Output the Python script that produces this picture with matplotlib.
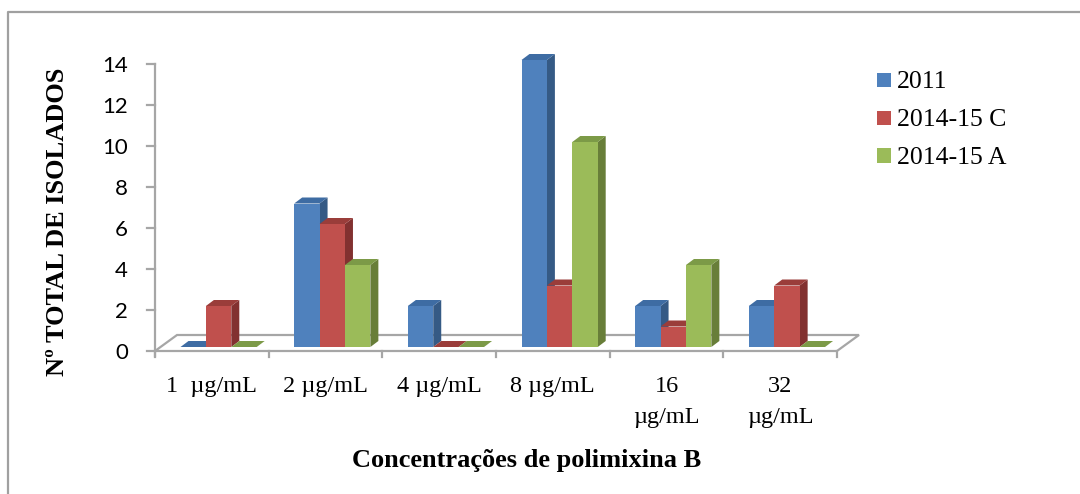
import matplotlib
matplotlib.use('Agg')
import matplotlib.pyplot as plt
from matplotlib.patches import Polygon, Rectangle
from matplotlib.lines import Line2D

# ---------------- data ----------------
categories = ['1  µg/mL', '2 µg/mL', '4 µg/mL', '8 µg/mL', '16\nµg/mL', '32\nµg/mL']
series_names = ['2011', '2014-15 C', '2014-15 A']
v2011 = [0, 7, 2, 14, 2, 2]
v2014C = [2, 6, 0, 3, 1, 3]
v2014A = [0, 4, 0, 10, 4, 0]
yticks = [0, 2, 4, 6, 8, 10, 12, 14]
ylabel = 'Nº TOTAL DE ISOLADOS'
xlabel = 'Concentrações de polimixina B'

series = [v2011, v2014C, v2014A]
# (front, side, top) colours
colors = [('#4F81BD', '#355A85', '#3E6CA3'),
          ('#C0504D', '#823130', '#9A3D3A'),
          ('#9BBB59', '#687E39', '#7C9A47')]

W, H = 1080, 494
fig = plt.figure(figsize=(W / 100, H / 100), dpi=100)
fig.patch.set_facecolor('white')

# axes box in pixels
x0p, x1p, y0p, y1p = 155, 837, 351, 64
ax = fig.add_axes([x0p / W, (H - y0p) / H, (x1p - x0p) / W, (y0p - y1p) / H])
ncat = len(categories)
ax.set_xlim(0, ncat)
ax.set_ylim(0, yticks[-1])
ax.axis('off')

pxx = (x1p - x0p) / ncat          # pixels per category unit
pxy = (y0p - y1p) / yticks[-1]    # pixels per value unit

def dx(p):
    return p / pxx

def dy(p):
    return p / pxy

grey = '#A6A6A6'

# floor
fdx, fdy = dx(22), dy(16)
floor = Polygon([(0, 0), (ncat, 0), (ncat + fdx, fdy), (fdx, fdy)],
                closed=True, facecolor='white', edgecolor=grey, lw=1.6,
                clip_on=False, zorder=1, joinstyle='miter')
ax.add_patch(floor)

# y axis line and ticks
ax.add_line(Line2D([0, 0], [-dy(5), yticks[-1]], color=grey, lw=1.6, clip_on=False, zorder=1))
for t in yticks:
    ax.add_line(Line2D([-dx(8), 0], [t, t], color=grey, lw=1.6, clip_on=False, zorder=1))
    ax.text(-dx(27), t, str(t), ha='right', va='center_baseline', fontsize=16,
            family='Lato', color='black')

# category ticks
for i in range(ncat + 1):
    ax.add_line(Line2D([i, i], [0, -dy(6)], color=grey, lw=1.6, clip_on=False, zorder=1))

# 3D bars
bw = dx(25.4)
off_x = dx(25.5)
base = dy(4)
ddx, ddy = dx(8), dy(6)
z = 3
for ci in range(ncat):
    for si, vals in enumerate(series):
        v = vals[ci]
        fc, sc, tc = colors[si]
        xl = ci + off_x + si * bw
        xr = xl + bw
        yb = base
        yt = base + v
        front = Polygon([(xl, yb), (xr, yb), (xr, yt), (xl, yt)], closed=True,
                        facecolor=fc, edgecolor='none', zorder=z, clip_on=False)
        side = Polygon([(xr, yb), (xr + ddx, yb + ddy), (xr + ddx, yt + ddy), (xr, yt)],
                       closed=True, facecolor=sc, edgecolor='none', zorder=z, clip_on=False)
        top = Polygon([(xl, yt), (xr, yt), (xr + ddx, yt + ddy), (xl + ddx, yt + ddy)],
                      closed=True, facecolor=tc, edgecolor='none', zorder=z, clip_on=False)
        ax.add_patch(side)
        ax.add_patch(front)
        ax.add_patch(top)
        z += 0.01

# category labels, centred on the categories
for i, lab in enumerate(categories):
    fig.text((x0p + (i + 0.5) * pxx) / W, 1 - 392 / H, lab.split('\n')[0],
             ha='center', va='baseline', fontsize=17.5, family='Liberation Serif')
    if '\n' in lab:
        fig.text((x0p + (i + 0.5) * pxx) / W, 1 - 423 / H, lab.split('\n')[1],
                 ha='center', va='baseline', fontsize=17.5, family='Liberation Serif')

# axis titles
fig.text(58 / W, 1 - 222 / H, ylabel, rotation=90, ha='center', va='center',
         fontsize=19, fontweight='bold', family='Liberation Serif')
fig.text(527 / W, 1 - 467 / H, xlabel, ha='center', va='baseline',
         fontsize=19, fontweight='bold', family='Liberation Serif')

# legend
leg_sq = [80, 118.5, 155.5]
leg_base = [88, 126.5, 164]
for si, name in enumerate(series_names):
    fig.patches.append(Rectangle((877 / W, 1 - (leg_sq[si] + 7) / H), 14 / W, 14 / H,
                                 transform=fig.transFigure, facecolor=colors[si][0],
                                 edgecolor='none'))
    fig.text(897 / W, 1 - leg_base[si] / H, name, ha='left', va='baseline',
             fontsize=18.5, family='Liberation Serif')

# outer border (chart area)
fig.lines.append(Line2D([8 / W, 8 / W, 1.0], [0.0, 1 - 12 / H, 1 - 12 / H],
                        transform=fig.transFigure, color='#A0A0A0', lw=1.6))

fig.savefig('out.png', dpi=100)
